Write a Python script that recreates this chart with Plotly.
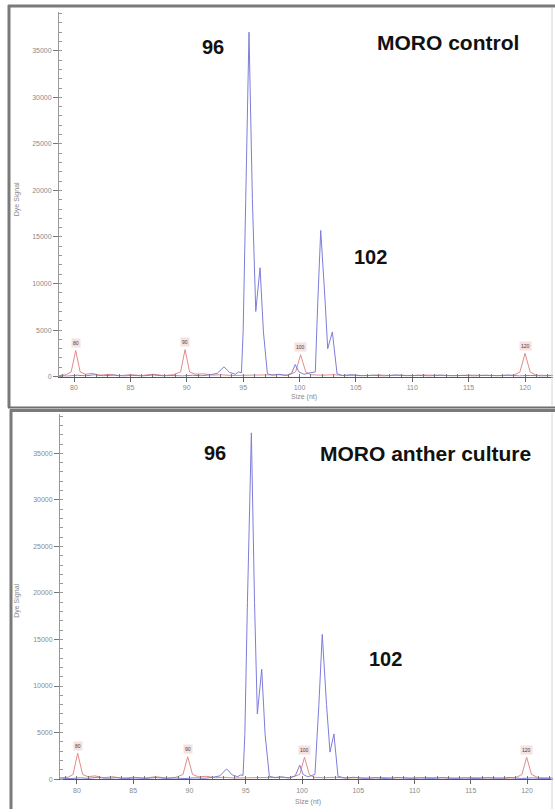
import plotly.graph_objects as go

# ---------------- data ----------------
top_blue_x = [78.7, 79.4, 80.3, 81.0, 81.8, 82.6, 83.5, 84.4, 85.2, 86.1, 87.0, 87.9, 88.8, 89.6,
              90.5, 91.3, 92.1, 92.7, 93.3, 93.8, 94.3, 94.6, 94.85, 95.0, 95.23, 95.52, 95.82,
              96.12, 96.5, 96.8, 97.15, 97.6, 98.2, 98.8, 99.3, 99.62, 99.95, 100.4, 100.9, 101.4,
              101.62, 101.88, 102.26, 102.5, 102.91, 103.33, 103.8, 104.6, 105.5, 106.5, 107.5,
              108.5, 109.5, 110.5, 111.5, 112.5, 113.5, 114.5, 115.5, 116.5, 117.5, 118.5, 119.5,
              120.5, 121.5, 122.5]
top_blue_y = [100, 50, 150, 80, 200, 90, 160, 60, 130, 70, 180, 80, 120, 60,
              150, 90, 200, 350, 1050, 450, 250, 500, 400, 4800, 19000, 37000, 19000,
              7000, 11700, 4800, 300, 150, 250, 120, 350, 1300, 500, 250, 400, 500,
              8000, 15700, 8300, 3000, 4800, 300, 120, 200, 80, 150, 60,
              180, 90, 140, 70, 160, 80, 130, 60, 150, 90, 170, 70,
              130, 60, 120]

top_red_x = [78.7, 79.3, 79.75, 80.15, 80.55, 81.0, 81.6, 82.3, 83.2, 84.0, 85.0, 86.0, 87.0, 88.0,
             88.8, 89.45, 89.85, 90.25, 90.8, 91.5, 92.3, 93.0, 94.0, 95.0, 96.0, 97.0, 98.0, 99.0,
             99.65, 100.1, 100.55, 101.0, 102.0, 103.0, 104.0, 105.0, 106.0, 107.0, 108.0, 109.0,
             110.0, 111.0, 112.0, 113.0, 114.0, 115.0, 116.0, 117.0, 118.0, 119.0, 119.55, 120.0,
             120.45, 121.0, 122.5]
top_red_y = [120, 200, 500, 2800, 500, 250, 350, 150, 250, 100, 200, 120, 250, 120,
             200, 500, 2900, 500, 250, 300, 150, 200, 120, 150, 100, 150, 200, 150,
             500, 2350, 500, 200, 150, 200, 120, 150, 100, 180, 120, 150,
             100, 170, 120, 150, 100, 160, 120, 150, 100, 150, 500, 2500,
             500, 150, 120]

bot_blue_x = [78.5, 79.4, 80.3, 81.0, 81.8, 82.6, 83.5, 84.4, 85.2, 86.1, 87.0, 87.9, 88.8, 89.6,
              90.5, 91.3, 92.1, 92.7, 93.3, 93.8, 94.3, 94.5, 94.76, 94.92, 95.15, 95.5, 95.78,
              96.03, 96.42, 96.72, 97.1, 97.6, 98.2, 98.8, 99.4, 99.8, 100.1, 100.5, 100.9, 101.15,
              101.5, 101.8, 102.18, 102.49, 102.84, 103.2, 103.8, 104.6, 105.5, 106.5, 107.5,
              108.5, 109.5, 110.5, 111.5, 112.5, 113.5, 114.5, 115.5, 116.5, 117.5, 118.5, 119.5,
              120.5, 121.5, 122.3]
bot_blue_y = [120, 60, 140, 80, 190, 90, 150, 60, 130, 70, 170, 80, 120, 60,
              140, 90, 200, 350, 1100, 450, 250, 450, 400, 4800, 19000, 37200, 19000,
              7000, 11800, 4800, 300, 150, 250, 120, 350, 1500, 500, 250, 400, 500,
              8000, 15550, 8000, 2900, 4850, 300, 120, 200, 80, 150, 60,
              180, 90, 140, 70, 160, 80, 130, 60, 150, 90, 170, 70,
              130, 60, 120]

bot_red_x = [78.5, 79.2, 79.65, 80.06, 80.5, 81.0, 81.6, 82.3, 83.2, 84.0, 85.0, 86.0, 87.0, 88.0,
             88.8, 89.42, 89.84, 90.27, 90.8, 91.5, 92.3, 93.0, 94.0, 95.0, 96.0, 97.0, 98.0, 99.0,
             99.8, 100.22, 100.65, 101.0, 102.0, 103.0, 104.0, 105.0, 106.0, 107.0, 108.0, 109.0,
             110.0, 111.0, 112.0, 113.0, 114.0, 115.0, 116.0, 117.0, 118.0, 119.0, 119.55, 119.97,
             120.4, 121.0, 122.3]
bot_red_y = [120, 200, 500, 2780, 500, 250, 350, 150, 250, 100, 200, 120, 250, 120,
             200, 500, 2400, 500, 250, 300, 150, 200, 120, 150, 100, 150, 200, 150,
             500, 2350, 500, 200, 150, 200, 120, 150, 100, 180, 120, 150,
             100, 170, 120, 150, 100, 160, 120, 150, 100, 150, 500, 2350,
             500, 150, 120]

std_sizes = [80, 90, 100, 120]
top_std_x = [80.15, 89.85, 100.1, 120.0]
top_std_h = [2800, 2900, 2350, 2500]
bot_std_x = [80.06, 89.84, 100.22, 119.97]
bot_std_h = [2780, 2400, 2350, 2350]

x_ticks = [80, 85, 90, 95, 100, 105, 110, 115, 120]
y_ticks = [0, 5000, 10000, 15000, 20000, 25000, 30000, 35000]

panel_titles = ["MORO control", "MORO anther culture"]
peak_labels = ["96", "102"]

# ---------------- figure ----------------
W, H = 555, 812
BLUE = "#7d7ddb"
RED = "#e58a8a"

def px(x):
    return x / W

def py(y):
    return 1 - y / H

fig = go.Figure()
fig.add_trace(go.Scatter(x=top_red_x, y=top_red_y, mode="lines", line=dict(color=RED, width=1),
                         xaxis="x", yaxis="y", hoverinfo="skip"))
fig.add_trace(go.Scatter(x=top_blue_x, y=top_blue_y, mode="lines", line=dict(color=BLUE, width=1),
                         xaxis="x", yaxis="y", hoverinfo="skip"))
fig.add_trace(go.Scatter(x=bot_red_x, y=bot_red_y, mode="lines", line=dict(color=RED, width=1),
                         xaxis="x2", yaxis="y2", hoverinfo="skip"))
fig.add_trace(go.Scatter(x=bot_blue_x, y=bot_blue_y, mode="lines", line=dict(color=BLUE, width=1),
                         xaxis="x2", yaxis="y2", hoverinfo="skip"))

tickfont = dict(family="Liberation Sans", size=7, color="#8a8a8a")

def xaxis_cfg(rng, dom, anchor):
    return dict(range=rng, domain=dom, anchor=anchor, showgrid=False, zeroline=False,
                tickvals=x_ticks, ticks="outside", ticklen=4, tickcolor="#666", tickwidth=1,
                minor=dict(dtick=1, tick0=80, ticks="inside", ticklen=3, tickcolor="#777"),
                showline=True, linecolor="#555", linewidth=1, tickfont=tickfont)

def yaxis_cfg(rng, dom, anchor):
    return dict(range=rng, domain=dom, anchor=anchor, showgrid=False, zeroline=False,
                tickvals=y_ticks, tickformat="d", ticks="outside", ticklen=5, tickcolor="#777",
                minor=dict(dtick=1000, tick0=0, ticks="inside", ticklen=3, tickcolor="#999"),
                showline=True, linecolor="#999", linewidth=1, tickfont=tickfont)

fig.update_layout(
    width=W, height=H, margin=dict(l=0, r=0, t=0, b=0),
    paper_bgcolor="white", plot_bgcolor="white", showlegend=False,
    xaxis=xaxis_cfg([78.67, 122.48], [px(59), px(553)], "y"),
    yaxis=yaxis_cfg([0, 39174], [py(378), py(12)], "x"),
    xaxis2=xaxis_cfg([78.49, 122.31], [px(60), px(553)], "y2"),
    yaxis2=yaxis_cfg([0, 39174], [py(782), py(416)], "x2"),
)

ann = []
big = dict(family="Liberation Sans", size=21, color="#111")

def label(text, x, y, font, angle=0):
    ann.append(dict(text=text, x=px(x), y=py(y), xref="paper", yref="paper",
                    xanchor="center", yanchor="middle", showarrow=False,
                    textangle=angle, font=font))

# top panel labels
label("<b>%s</b>" % peak_labels[0], 213, 47, dict(big, size=20))
label("<b>%s</b>" % panel_titles[0], 448, 43, big)
label("<b>%s</b>" % peak_labels[1], 371, 258, dict(big, size=20))
# bottom panel labels
label("<b>%s</b>" % peak_labels[0], 215, 455, dict(big, size=20))
label("<b>%s</b>" % panel_titles[1], 425, 455, big)
label("<b>%s</b>" % peak_labels[1], 385, 661, dict(big, size=20))

small = dict(family="Liberation Sans", size=7, color="#8a8a8a")
label("Dye Signal", 17, 200, small, -90)
label("Dye Signal", 17, 603, small, -90)
label("Size (nt)", 304, 398, small)
label("Size (nt)", 308, 805, small)

# size-standard peak labels
for s, xx, hh in zip(std_sizes, top_std_x, top_std_h):
    ann.append(dict(text=str(s), x=xx, y=hh + 250, xref="x", yref="y", yanchor="bottom",
                    showarrow=False, font=dict(family="Liberation Sans", size=5, color="#444"),
                    bgcolor="#f6e0e0"))
for s, xx, hh in zip(std_sizes, bot_std_x, bot_std_h):
    ann.append(dict(text=str(s), x=xx, y=hh + 250, xref="x2", yref="y2", yanchor="bottom",
                    showarrow=False, font=dict(family="Liberation Sans", size=5, color="#444"),
                    bgcolor="#f6e0e0"))
fig.update_layout(annotations=ann)

# panel frames
shapes = []
def line(x0, y0, x1, y1, color, width):
    shapes.append(dict(type="line", xref="paper", yref="paper", x0=px(x0), y0=py(y0),
                       x1=px(x1), y1=py(y1), line=dict(color=color, width=width)))
# top panel
line(8, 6, 555, 6, "#7a7a7a", 3)
line(9, 5, 9, 409, "#7a7a7a", 3)
line(8, 409, 555, 409, "#6e6e6e", 2)
line(552, 8, 552, 408, "#d6d6d6", 1)
# bottom panel
line(10, 412, 555, 412, "#7a7a7a", 3)
line(11, 411, 11, 812, "#7a7a7a", 3)
line(552, 414, 552, 812, "#d6d6d6", 1)
fig.update_layout(shapes=shapes)

fig.write_html("out.html")
